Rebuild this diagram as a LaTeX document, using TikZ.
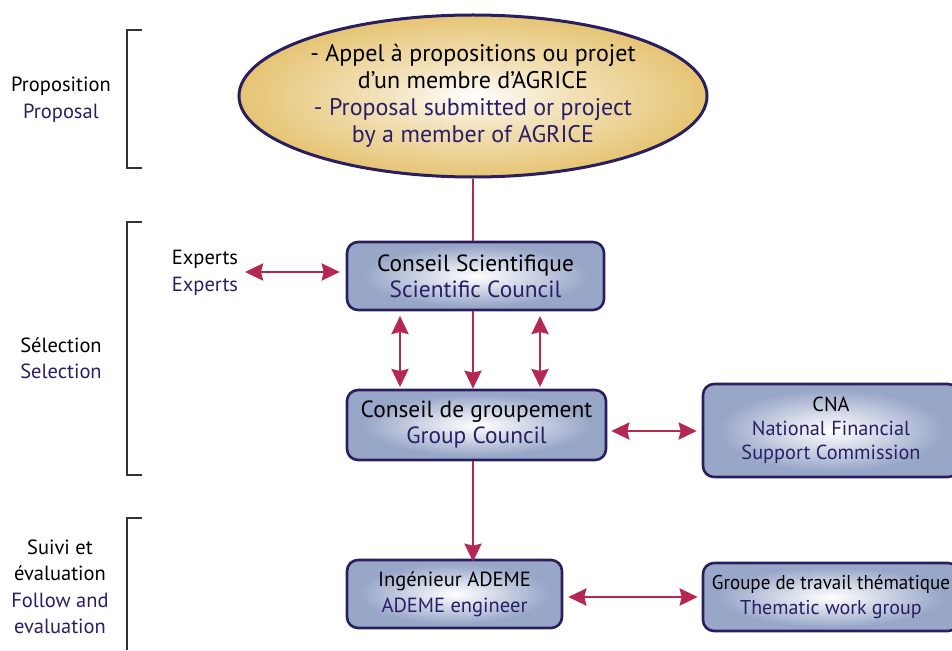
\documentclass[tikz,border=0pt]{standalone}
\usepackage{fontspec}
\setmainfont{PT Sans}
\usetikzlibrary{arrows.meta,shapes.geometric}
\definecolor{navy}{HTML}{2A1F66}
\definecolor{edge}{HTML}{2A1F5E}
\definecolor{boxblue}{HTML}{98A6C8}
\definecolor{tan}{HTML}{E6C474}
\definecolor{crim}{HTML}{B42852}
\definecolor{brk}{HTML}{333333}
\pgfdeclareradialshading{boxglow}{\pgfpoint{0bp}{0bp}}{color(0bp)=(white); color(9bp)=(boxblue!40!white); color(22bp)=(boxblue); color(50bp)=(boxblue)}
\pgfdeclareradialshading{ellglow}{\pgfpoint{0bp}{0bp}}{color(0bp)=(white); color(10bp)=(tan!50!white); color(25bp)=(tan); color(50bp)=(tan)}
\tikzset{
  box/.style={draw=edge, line width=2.6pt, rounded corners=11pt, shading=boxglow, align=center, font=\fontsize{23.4}{26}\selectfont, inner sep=0pt},
  ell/.style={draw=edge, line width=3pt, ellipse, shading=ellglow, align=center, font=\fontsize{24}{27}\selectfont, inner sep=0pt},
  lab/.style={align=center, font=\fontsize{20.5}{26.5}\selectfont, inner sep=0pt},
  conn/.style={draw=crim, line width=2.8pt},
  tip/.tip={Stealth[length=18pt,width=17pt,inset=2pt]},
  dbl/.style={conn, tip-tip},
  sgl/.style={conn, -tip},
  brack/.style={draw=brk, line width=1.3pt}
}
\begin{document}
\begin{tikzpicture}[x=1pt,y=-1pt]
\useasboundingbox (0,0) rectangle (952,650);
% ellipse
\node[ell, minimum width=468pt, minimum height=162pt] (prop) at (473,96)
  {- Appel à propositions ou projet\\d’un membre d’AGRICE\\\textcolor{navy}{- Proposal submitted or project}\\\textcolor{navy}{by a member of AGRICE}};
% boxes
\node[box, minimum width=257pt, minimum height=68pt] (cs) at (475.5,276) {Conseil Scientifique\\\textcolor{navy}{Scientific Council}};
\node[box, minimum width=259pt, minimum height=70pt] (cg) at (476.5,425) {Conseil de groupement\\\textcolor{navy}{Group Council}};
\node[box, minimum width=256pt, minimum height=93pt, font=\fontsize{20.3}{24}\selectfont] (cna) at (831,430.5) {CNA\\\textcolor{navy}{National Financial}\\\textcolor{navy}{Support Commission}};
\node[box, minimum width=215pt, minimum height=68pt, font=\fontsize{20.5}{26}\selectfont] (ing) at (454.5,594) {Ingénieur ADEME\\\textcolor{navy}{ADEME engineer}};
\node[box, minimum width=256pt, minimum height=68pt, font=\fontsize{20}{25}\selectfont] (gt) at (831,597) {\scalebox{0.95}[1]{Groupe de travail thématique}\\\textcolor{navy}{Thematic work group}};
% experts
\node[lab, font=\fontsize{20.5}{27}\selectfont] (exp) at (205,273) {Experts\\\textcolor{navy}{Experts}};
% left labels
\node[lab] (l1) at (61,100) {Proposition\\\textcolor{navy}{Proposal}};
\node[lab] (l2) at (61,358) {Sélection\\\textcolor{navy}{Selection}};
\node[lab] (l3) at (60,587) {Suivi et\\évaluation\\\textcolor{navy}{Follow and}\\\textcolor{navy}{evaluation}};
% brackets
\coordinate (b1a) at (142,30); \coordinate (b1b) at (142,168);
\draw[brack] (b1a) -- (127,30) -- (127,168) -- (b1b);
\coordinate (b2a) at (142,222); \coordinate (b2b) at (142,475);
\draw[brack] (b2a) -- (127,222) -- (127,475) -- (b2b);
\coordinate (b3a) at (142,518); \coordinate (b3b) at (127,650);
\draw[brack] (b3a) -- (127,518) -- (b3b);
% connectors
\coordinate (vx) at (473,0);
\draw[conn] (prop.south) -- (cs.north -| vx);
\coordinate (ea) at (245,272);
\draw[dbl] (ea) -- ([xshift=-6pt]cs.west |- ea);
\draw[sgl] (cs.south -| vx) -- (cg.north -| vx);
\coordinate (v1a) at (400,316); \coordinate (v1b) at (400,387);
\coordinate (v2a) at (540,316); \coordinate (v2b) at (540,387);
\draw[dbl] (v1a) -- (v1b);
\draw[dbl] (v2a) -- (v2b);
\coordinate (h1) at (0,431);
\draw[dbl] ([xshift=4pt]cg.east |- h1) -- ([xshift=-5pt]cna.west |- h1);
\draw[sgl] (cg.south -| vx) -- ([yshift=-3pt]ing.north -| vx);
\coordinate (h2) at (0,597);
\draw[dbl] ([xshift=5pt]ing.east |- h2) -- ([xshift=-4pt]gt.west |- h2);
\end{tikzpicture}
\end{document}
